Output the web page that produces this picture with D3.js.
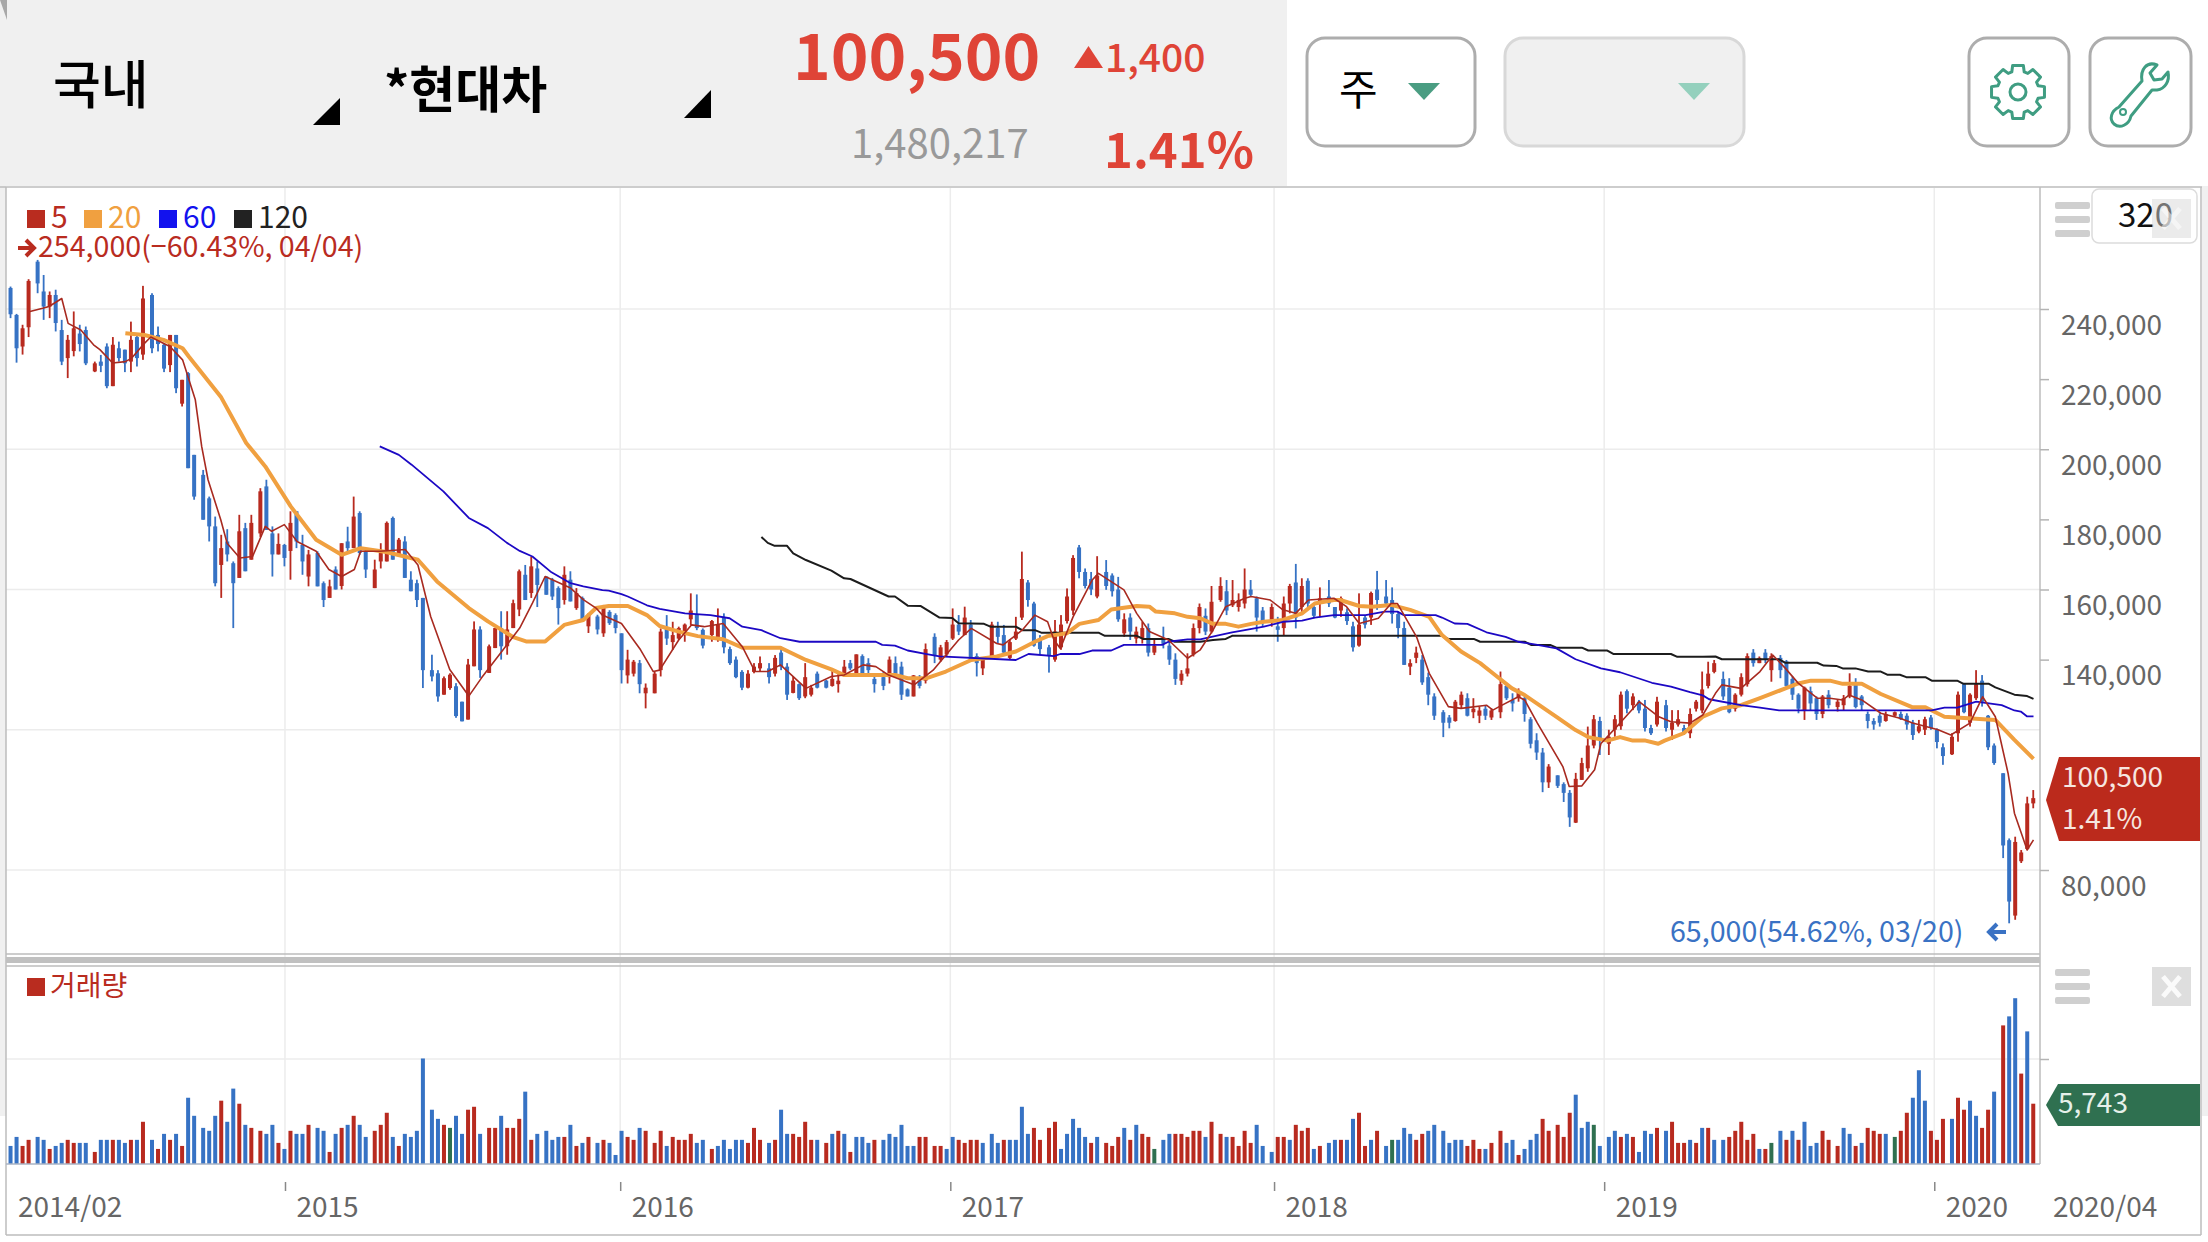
<!DOCTYPE html>
<html>
<head>
<meta charset="utf-8">
<title>현대차 주봉</title>
<script src="https://cdn.jsdelivr.net/npm/d3@7"></script>
<style>
    html, body { margin: 0; padding: 0; background: #fff; }
    svg { display: block; }
    text { font-family: "Noto Sans CJK KR", "Noto Sans", sans-serif; }
</style>
</head>
<body>
<div id="chart"></div>
<script>
//weekly candles, prices in thousand won
var opens = [
    228,246,238.3,229.3,234.8,253.5,245,240.7,244,234,
    226,228,233,234,222.2,225,229.3,218,228.8,228.4,
    225,232,227,244,232.6,229.8,224,232.6,213,221.7,
    198.4,192.7,186,178,167,173.7,167.5,163.3,177.5,168.5,
    176,189.4,176,170,172.7,171,182.3,172.7,163.7,170.4,
    161.8,157.6,165.7,161,173.7,171.8,181.8,170.9,160.4,168,
    168,180.4,170,173.7,162.8,161.8,157.6,137,136.1,130,
    131.9,132.4,128,122.9,138.1,148.6,136.2,143.3,149,143.8,
    149,154.3,164.2,159,166,163.7,162.8,160.4,157,162.8,
    154.7,157.6,149.5,152.3,147.5,153.6,152.7,147.5,135.5,136,
    139,130.4,130.4,137,149,145,146,147,151.5,153,
    148.5,147,146,152,143,140,136.5,132,136.5,137.5,
    137.5,136,142,138,130.5,133,129.5,130,136,134,
    132.5,133,136,139,136,141,139,134.5,135,135,
    139,138,131.5,129.5,134,134,146.5,140,141.5,146,
    150,147,150,141,137.5,141,149,147,140.5,146,
    152,162,156,146,143.5,140,143.5,151,154,172,
    165,163,158,165,164,160,147.5,152,146,146,
    149,142,146,144,140,134,136,141.5,149,152.5,
    148,157,159.5,155.5,155,156,160,157.5,154,151,
    149.5,149,156,162,155,162.5,155,156,158,155,
    154,153.5,149.5,144,152,152,160,158,157,153,
    149,138,140.5,140,135,129.5,125,123.5,122.5,127,
    129,125,124,126,123.5,125,132.5,128.5,129,129,
    123,117,113.5,105,107,104.5,102,93.5,105.7,109,
    115.5,122.5,116,120,121,131,127,128,126,120.5,
    121.5,127,120,121.5,120.5,119,126,125.5,132.5,136.5,
    134.5,132,126,130,133,142,139,142,137,140.5,
    139.5,134.5,130,125.5,131,129,124.5,130,126.5,127,
    129.5,133.5,129.5,124.5,122.5,124,122.5,124,124.5,124,
    122,119.5,120,123.5,120,115,113,119,133,122,
    129,134,124,115.5,107.6,88.5,67,82.5,86,99
];
var highs = [
    245.5,246.4,238.6,235.5,248.5,254,249.7,245,245.5,236.9,
    232.6,239.3,235.5,235,225,226.9,230.2,232,230.7,228.4,
    236.4,233,246.6,244.5,235,230.2,232.6,232.6,219.8,222,
    198.4,194.1,186.5,180.8,175.6,177.2,168,181.3,179,181.3,
    188.9,191.3,178,176,173,182.3,182.3,175.6,171.3,170.9,
    162.3,162.8,166.6,173.2,177.9,186.5,182.3,171.8,168.5,173.2,
    179.4,180.8,174.7,175.2,165.2,162.8,157.6,141.4,137,135.2,
    136.1,133.3,128,140.2,150.9,149.5,144.3,149,153.8,153.8,
    157.1,165.7,167,169.4,168,163.7,163.3,160.9,166.6,165.2,
    160.4,158,153.3,152.8,155.6,154.1,153.2,147.5,142.8,139.9,
    139.9,133.2,136.6,148.9,152.7,150.8,149.4,150.3,158.9,158.6,
    148.9,151.3,154.6,153.2,143.7,140.9,137,137,139,140.9,
    139,141.3,143.7,139,135.2,133.2,139,132.8,136.6,134.2,
    137.5,136.1,139.9,139.9,141.5,141.5,140.4,136.1,136.6,140.9,
    140.9,139.4,131.8,135.6,135.6,144.6,147.5,144.2,145.6,154.6,
    152.7,155.1,151.3,141.8,140.4,150.8,150.8,149.9,145.8,152.2,
    170.8,162.7,156.5,147,144.2,151.3,152.7,160.3,169.8,172.7,
    166,165,169.5,168.4,164.6,163.6,153.2,153.2,149.4,150.8,
    150.3,145.6,149.4,145.6,141.8,137,141.8,150.3,156,154.6,
    161,163.5,162.7,162.7,158.9,166,162.7,158,155,156,
    152.2,158,161.6,167.3,163.2,163.2,155.6,160.6,162.7,155,
    158,154.6,150.8,158.9,152.7,159.4,165.3,162.7,160.6,153.7,
    150.8,140.1,143.7,141.3,136.3,130.4,125.6,124.2,128.5,130.9,
    130.4,129,126.6,127,126.1,136.6,133.2,130.4,131.8,129.5,
    123.6,119,114.8,110.2,107,105,102.8,107.7,112,120.9,
    124.2,123.7,120,124.2,130.9,131.5,130.4,128.5,128.5,121.4,
    129.4,128.5,125.6,125.6,121.4,126.1,128.5,136.6,139.4,139.9,
    136.6,134.7,130.4,136.1,141.8,143,140.9,143,141.8,141.3,
    139.9,135.2,130.4,132.3,132.3,129.5,129.9,131.3,128.5,129.9,
    136.1,134.7,129.9,125.2,123.3,124.7,125.2,125.2,125.2,124.7,
    122.8,122.8,123.7,124.2,120.4,116.1,119,130.9,133.3,130.4,
    137,135.6,124.2,116.1,107.6,89,89.5,85.7,100.9,102.8
];
var lows = [
    226,237.4,224.7,227,232,244.5,236.9,237.4,233.6,224,
    220.3,226.5,227.9,224,222,222,217.4,218,225,222,
    222,223.6,225.5,227.4,227.9,222,222,216,212.2,194.6,
    185.6,179.9,173.7,160.9,157.6,168,149,163.3,165.2,168.5,
    175,177,163.7,170,166.6,162.8,171.8,164.2,160.9,160.9,
    155,157.6,160,160,170.9,171.8,169.9,163.3,160.4,166,
    168,168.5,169.4,163.3,159.5,155,131.9,133.8,128,130,
    131.4,123.4,122.4,122.9,138.1,134.8,136.2,143.3,140,141.4,
    149,152.4,157,157.6,155,158.5,157,150,155.7,156.6,
    154.2,151.4,147.6,147.2,146.5,149.9,147.5,133.2,133.2,135.2,
    130.4,126.1,130.4,135.2,144.2,142.8,145.6,145.1,149.9,148.4,
    143.2,145.1,145.1,141.8,138.5,134.7,131.3,131.8,136.1,136.6,
    133.2,135.2,137,128.5,130.4,128.5,129,129.5,131.8,131.8,
    132.3,130.6,135.6,137,135.6,135.2,136.1,130.6,131.3,133.2,
    135.2,128.5,129.5,129.5,131.8,133.2,139,139.4,140.9,145.6,
    147,147,139.9,135.2,135.6,140.9,144.6,141.3,139.9,145.6,
    151.3,155.1,143.7,141.3,136.3,139.4,142.8,150.3,152.7,163.2,
    160.3,158.4,157.5,159.9,158,150.8,146.5,145.6,144.6,144.6,
    140.9,141.3,143.2,138.5,132.8,132.8,135.2,140.9,147.5,147,
    147.5,156.5,152.7,155,153.7,154.6,158,148,149.4,149.4,
    145.1,147,153.2,148.9,152.7,154.6,151.8,152.2,155,151.8,
    152.2,149.9,142.3,143.7,148.9,149.9,154.2,155.1,150.3,146.1,
    138.5,135.6,139,132.8,127,122.8,117.9,120.4,122.3,126.1,
    123.8,123.3,121.9,122.8,122.8,123.3,128.5,125.2,128,122.3,
    114.7,111.4,102.2,103.4,103.4,99.4,92.3,93.4,105.7,108,
    114.7,112.8,112.8,118,120,124.7,125.6,124.7,119.5,118.5,
    120.9,119.5,117.1,120.9,118.5,117.6,125.2,124.7,131.8,136.1,
    128.5,124.7,125.2,129.5,132.3,138,139,139,133.7,134.7,
    131.8,128.5,124.7,122.8,125.6,122.8,123.3,126.1,125.2,125.6,
    129,126.1,125.6,120.4,120,120.9,122.3,123.7,122.8,120,
    117.1,119,118.5,120,114.7,110,112.8,116.6,124.7,120.9,
    128.5,126.6,114.2,110,83.4,64.8,65.8,82,85.7,97.6
];
var closes = [
    244.5,238.5,228.8,234.5,248,247.3,240.7,244,236,225,
    231.2,234.5,230,224.5,224.5,223.8,218,229.8,226,224.5,
    231.2,226,243,228.8,230,223,232.6,217.4,219.8,194.6,
    186.5,179.9,178,161.8,171.8,170,161.8,176.6,165.2,179,
    188,177,170,173,169,179,173.7,168,170,160.9,
    157,160.9,160,173.2,171.8,180.8,170.4,165.7,165.7,170.4,
    179,168.5,174.2,163.3,159.5,157,137,135.2,129.5,134.7,
    135.7,123.9,122.4,138.6,148.6,137,143.8,149,143.8,148.6,
    156.1,165.2,157,166.6,161.3,158.5,158,154.7,164.2,156.6,
    159,151.4,152.8,148.6,155.1,150.4,149,137,140,139.4,
    133,132,136,148,146,147,149,150,154,149,
    144,151,150,143.5,139,135,132,136,138,139,
    135,140.5,138,130,134,129,135,132,132,132,
    134.5,134,138,137.5,141.5,136,137,133,132.5,140,
    136,130,129.5,135.5,132.5,143,141,143.5,145,150,
    148,152,140,139,140,150,146.5,142,145,148,
    163,157,144,143,141,148,150,158,169,165,
    161,160,164,161,159.5,151.5,151.5,148,148,149,
    142,144,144.5,140,134.5,136,137.5,149,155,148,
    156.5,161,154,157,157,160,158.5,152,150.5,155,
    148.5,156,161,152,161,156,152.5,157.5,156,152,
    157.5,151,143.5,150,150,159,157,156,153,149,
    138.5,139,142,133.5,130,124,122,122,128,130,
    124,126,125.5,124,125.5,133,129,127.5,131,124.5,
    116,113.5,105,109.5,104,102,95,106,110.5,115.5,
    123,117.5,118,123,130,126,129.5,125.5,120.5,119,
    128,120.5,122,123,119,124.5,128,131.5,136,139,
    129.5,125,130,135,141,139,140.5,140,141,137,
    132.5,130,126,132,127.5,124.5,129.5,127,128,129,
    132.5,126.5,127,122.5,121.5,122,124.5,125,123,121.5,
    118.5,121,123,120.5,116.5,112.5,118,130,125,130,
    133,128,115,110.5,87,71,88,85,99,100.5
];

//volume in thousand shares, with its own colour code per bar
var volumes = [
    2870,1720,2580,1720,2300,2580,2300,1435,1720,2010,
    2300,2010,2010,2010,1150,2300,2300,2300,2300,2010,
    2300,2300,4020,2300,1435,2870,2300,2870,1720,6310,
    4590,3440,3160,4590,6030,4020,7180,5740,3730,3440,
    3160,2870,3730,2010,1435,3160,2870,2870,3730,3440,
    3160,1150,2870,3440,3730,4590,3730,2580,3160,3730,
    4880,2580,1720,2870,2580,3160,10050,5170,4300,3730,
    3440,4590,2870,5170,5450,2870,3440,3440,4590,3440,
    3440,4300,6890,2300,2870,3160,2300,2580,2580,3730,
    1720,2010,2580,2010,2300,2010,860,3160,2580,2300,
    3440,3160,2010,3160,1720,2580,2300,2300,2870,2010,
    2300,1435,1720,2300,1435,2300,2300,2010,3440,2300,
    2010,2300,5170,2870,2870,2580,4020,2300,2300,2010,
    2870,3160,2870,1150,2580,2580,2010,2300,2300,2870,
    2580,3730,1720,1720,2580,2580,1720,1720,1435,2580,
    2300,2010,2300,2300,2010,2870,2010,2300,2300,2300,
    5450,2870,3440,2300,3440,4020,1435,2870,4300,3440,
    2580,2010,2580,2010,1720,2580,3440,2300,3730,2870,
    2580,1435,2300,2870,2870,2870,2580,3160,3160,2580,
    4020,2870,2580,2580,1720,3160,2010,3730,1720,1150,
    2580,2580,2300,3730,3160,3440,1435,1720,2010,2300,
    2300,2300,4300,4880,1720,2300,3160,1720,2300,2300,
    3440,2870,2300,2870,3160,3730,3160,2010,2300,2300,
    1720,2300,1435,1435,2010,3160,2010,2300,860,1435,
    2300,2870,4300,3160,3730,2580,4880,6600,3440,4020,
    3730,1720,2580,3160,2580,2870,2580,1150,3160,2870,
    3440,3160,4020,2010,2010,2300,2010,3440,3440,2300,
    2300,2580,3160,4020,2300,2870,1435,1435,2010,3160,
    2300,3160,2300,4020,1720,2010,3160,2300,1720,3440,
    2870,1720,2010,3440,3160,2870,2870,2580,3160,4880,
    6310,8930,6030,3160,2300,4300,4300,6310,5170,6030,
    4590,3440,5170,6890,13200,14060,15790,8610,12630,5743
];
var volumeDir = "rbbrrbbrbbrrbbrbbrbbrbrbrbrbrbbbbbrbbrbrrbbrbrbbrbbrbrbrbbrrrbrbbbbbbrgbbrrbrrbrrrbrbbbbrbrbrbrbbbrrbrrrbrrrrbbrbbbbbrrrbrbbrrrrbrbrbrbbbrbbbbbbrrrrbbrrrrbbbrbbbbrrrrbbbbbrbrrrbrbrrgbbrrrrrbrrbrrrrbbbrrbrrrbrbbrbbrrbrbgbbbrrbbbbbbrrrbrrbbrbbbrrrrrbbbgbbbrbrbbbrbrrrbrbrbbrrrrrbrgbrbrbbbrrrbbrbrrrbgrrbbbrrrbrrbbrrbrbbrbrb";

//moving averages, [week index, price]
var ma5 = [
    [4,239.3],[6,240.2],[7,240.7],[9,243],[10,235.9],[12,234],[14,229.8],[15,228.4],[17,224.6],[19,225],
    [20,226],[22,230.2],[23,232],[26,229.3],[28,225.5],[30,214.1],[31,200.8],[32,191.3],[34,179.9],[35,173.2],
    [37,169],[39,169.4],[41,178],[42,176.6],[44,178.5],[46,173.7],[49,170.9],[51,165.7],[53,163.7],[55,165.7],
    [56,170.9],[59,170.9],[63,171.4],[65,167],[67,152.3],[70,137.2],[73,129.6],[75,134.8],[78,141.9],[81,149],
    [83,156.1],[85,163.7],[89,160.4],[91,157.1],[93,154.7],[94,152.7],[97,150.3],[100,142.8],[102,136.6],[103,137],
    [106,145.6],[108,149.9],[110,149.4],[113,150.3],[116,143.7],[118,136.6],[120,136.6],[122,138.5],[126,131.8],[130,135.2],
    [132,135.6],[135,138.5],[137,138],[139,135.6],[143,132.8],[146,137],[150,145.6],[152,148.9],[156,144.6],[157,144.2],
    [160,148.4],[162,152.7],[164,150.8],[165,145.6],[166,143.2],[168,152.2],[171,162.7],[172,164.6],[176,159.9],[178,153.2],
    [180,148],[183,145.6],[186,140.4],[188,142.8],[190,148.4],[192,155.1],[195,157.5],[196,158],[199,157],[201,154.2],
    [203,153.2],[205,157],[209,157.5],[211,155.1],[213,150.3],[216,151.8],[218,156],[219,156],[222,146.5],[224,136.1],
    [227,126.6],[229,126.1],[233,127],[234,125.6],[235,126.6],[238,129.4],[239,128.5],[241,121.9],[245,109.5],[246,103.8],
    [248,104],[250,108.6],[251,116.1],[254,121.9],[257,128],[260,123.8],[262,122.3],[265,121.9],[267,124.2],[269,130.4],
    [270,132.8],[273,131.8],[276,136.6],[278,141.3],[280,137.5],[282,133.3],[285,129],[287,129],[289,128.5],[290,129.9],
    [292,128.5],[295,124.7],[298,123.3],[300,121.9],[304,120],[306,118.5],[309,121.9],[311,129.4],[313,123.7],[315,107.6],
    [316,96.2],[318,85.7],[319,88.6]
];
var ma20 = [
    [19,233.1],[22,232.6],[25,231.2],[28,228.8],[29,226.4],[34,215],[38,201.8],[41,195.1],[45,183.7],[49,174.2],
    [53,169.9],[56,171.8],[60,170.7],[65,168.5],[68,162.3],[73,154.7],[76,150.9],[80,146.4],[82,145.2],[85,145.2],
    [88,149.9],[91,151.3],[93,154.7],[95,155.3],[98,155.3],[101,152.7],[103,149.6],[106,148],[109,146.7],[113,145.8],
    [116,143.4],[122,143.4],[126,139.9],[130,137.2],[132,135.6],[140,135.6],[142,134.7],[145,134.7],[148,136.6],[152,139.9],
    [156,140.9],[159,142.3],[162,145.1],[164,146.7],[167,147.5],[169,150.2],[172,151.3],[174,154.3],[178,155.3],[180,155.1],
    [181,153.7],[184,153.2],[186,152.2],[188,151.8],[190,150.2],[192,150.2],[194,149.4],[196,150.2],[198,150.8],[201,151.3],
    [204,153.2],[206,156],[209,157],[210,157],[213,155.3],[215,155.1],[218,155.6],[221,154.2],[224,152.2],[226,147],
    [229,142.3],[232,139],[234,136.1],[237,131.8],[239,129.9],[244,123.7],[247,119.9],[249,117.9],[252,116.9],[254,117.9],
    [256,116.9],[258,116.9],[260,116],[261,116.9],[264,119],[267,123.7],[270,126.1],[273,127],[276,129],[280,131.8],
    [282,133.2],[284,134],[287,134],[289,133.1],[292,133.1],[295,130.2],[300,126.4],[302,126.4],[305,123.7],[313,122.8],
    [316,117.1],[319,111.7]
];
var ma60 = [
    [59,200.8],[62,198.4],[64,195.6],[69,188],[73,180.4],[76,177.5],[79,173.3],[81,171],[83,169.4],[86,164.9],
    [89,161.8],[91,160.9],[94,159.8],[95,159.7],[97,158.7],[98,158],[101,155.5],[103,154.5],[107,153.2],[111,152.7],
    [114,151.8],[116,149.4],[119,148.4],[122,146.1],[125,145.1],[137,145.1],[138,144.2],[140,144],[142,142.6],[145,141.6],
    [147,140.9],[159,139.9],[161,141.6],[165,141],[166,141.6],[169,141.6],[171,142.6],[174,142.6],[176,144.2],[182,144.2],
    [183,145.1],[186,145.8],[188,145.8],[191,147],[193,147.8],[195,148.4],[198,149.4],[201,150.8],[204,151.1],[206,152],
    [209,152.7],[214,152.7],[217,153.7],[219,153.7],[220,152.7],[225,152.7],[226,152],[228,150.3],[230,150.2],[233,147.8],
    [236,146.5],[238,145.1],[241,144.2],[244,143.2],[247,140.1],[251,137.5],[254,136.4],[259,133.4],[262,132.3],[265,130.7],
    [267,129.8],[268,128.7],[273,127],[276,126.3],[279,125.5],[303,125.5],[305,126.3],[307,126.3],[310,128],[314,127],
    [316,125.5],[317,125.2],[318,123.8],[319,123.8]
];
var ma120 = [
    [119,175],[120,173.3],[121,172.5],[123,172.5],[124,170.3],[126,168.4],[130,165.4],[132,163.2],[133,163],[139,158],
    [140,158],[142,155.4],[144,155.3],[147,152],[149,151.9],[150,150.4],[154,150.2],[155,149.4],[159,149.4],[160,148.4],
    [162,148.4],[163,147.7],[172,147.7],[173,146.8],[178,146.8],[179,145.9],[183,145.9],[184,145.1],[188,145.1],[190,145.6],
    [192,145.9],[193,146.8],[226,146.8],[227,145.9],[231,145.9],[232,145.1],[239,145.1],[240,144.2],[243,144.2],[244,143.4],
    [248,143.4],[249,142.6],[252,142.6],[253,141.6],[262,141.6],[263,140.8],[267,140.8],[269,140.9],[270,140.1],[279,140.1],
    [280,139.1],[285,139.1],[286,138.3],[288,138.2],[289,137.5],[291,137.5],[293,136.6],[295,136.6],[296,135.7],[298,135.7],
    [299,135],[302,135],[303,134],[307,134],[308,133.1],[312,133.1],[313,132.1],[316,130],[318,129.6],[319,128.8]
];

var priceTicks = [240, 220, 200, 180, 160, 140, 80];
var priceGrid = [240, 200, 160, 120, 80];
var volumeTicks = [10000];
var yearIndex = [44.1, 96.8, 148.7, 199.6, 251.5, 303.4];
var yearLabels = ["2015", "2016", "2017", "2018", "2019", "2020"];
var legendNames = ["5", "20", "60", "120"];
var legendColors = ["#b92c1f", "#f0a040", "#1212ee", "#222222"];

var RED = "#b82a1f", BLUE = "#3672c4", GREEN = "#2f7050";
var ICON = "#3f9d82";

var width = 2208, height = 1242;
var plotLeft = 6, plotRight = 2040;

var x = d3.scaleLinear().domain([0, 319]).range([4.5, 2033.5]);
var yPrice = d3.scaleLinear().domain([80, 240]).range([870, 309]);
var yVolume = d3.scaleLinear().domain([0, 10000]).range([1164, 1059]);

//the source chart sits on a coarse pixel grid, so bars step 6 or 9 px
function barX(i) {
    return Math.floor(x(i) / 3.01) * 3.01 + 1.5;
}

var svg = d3.select("#chart").append("svg")
    .attr("width", width)
    .attr("height", height);

svg.append("clipPath").attr("id", "plotClip").append("rect")
    .attr("x", plotLeft + 1).attr("y", 187)
    .attr("width", plotRight - plotLeft - 1).attr("height", 990);

function rect(g, x0, y0, w, h, fill) {
    return g.append("rect").attr("x", x0).attr("y", y0)
        .attr("width", w).attr("height", h).attr("fill", fill);
}
function label(g, x0, y0, str, size, fill, weight) {
    return g.append("text").attr("x", x0).attr("y", y0)
        .attr("font-size", size).attr("fill", fill)
        .attr("font-weight", weight || 400).text(str);
}
function poly(g, pts, fill) {
    return g.append("polygon").attr("points", pts.join(" ")).attr("fill", fill);
}

//page furniture behind the chart
rect(svg, 0, 0, 1287, 186, "#f0f0f0");
rect(svg, 0, 186, 6, 930, "#f0f0f0");
rect(svg, 2202, 186, 6, 930, "#f0f0f0");
poly(svg, ["0,0", "7,0", "7,20"], "#a8a8a8");

var grid = svg.append("g").attr("stroke", "#ececec").attr("stroke-width", 1.5);
grid.selectAll("line.h").data(priceGrid).enter().append("line").attr("class", "h")
    .attr("x1", plotLeft).attr("x2", plotRight)
    .attr("y1", function (d) { return yPrice(d); })
    .attr("y2", function (d) { return yPrice(d); });
grid.selectAll("line.v").data(volumeTicks).enter().append("line").attr("class", "v")
    .attr("x1", plotLeft).attr("x2", plotRight)
    .attr("y1", function (d) { return yVolume(d); })
    .attr("y2", function (d) { return yVolume(d); });
grid.selectAll("line.y").data(yearIndex).enter().append("line").attr("class", "y")
    .attr("y1", 188).attr("y2", 1164)
    .attr("x1", function (d) { return x(d); })
    .attr("x2", function (d) { return x(d); });

//candles
var candles = svg.append("g").attr("clip-path", "url(#plotClip)");
var idx = d3.range(opens.length);
function candleColor(i) {
    return closes[i] >= opens[i] ? RED : BLUE;
}
candles.selectAll("rect.wick").data(idx).enter().append("rect").attr("class", "wick")
    .attr("x", function (i) { return barX(i) - 0.9; })
    .attr("width", 1.8)
    .attr("y", function (i) { return yPrice(highs[i]); })
    .attr("height", function (i) { return yPrice(lows[i]) - yPrice(highs[i]); })
    .attr("fill", candleColor);
candles.selectAll("rect.body").data(idx).enter().append("rect").attr("class", "body")
    .attr("x", function (i) { return barX(i) - 2; })
    .attr("width", 4)
    .attr("y", function (i) { return yPrice(Math.max(opens[i], closes[i])); })
    .attr("height", function (i) { return Math.max(1.5, Math.abs(yPrice(opens[i]) - yPrice(closes[i]))); })
    .attr("fill", candleColor);

//moving averages
var maLine = d3.line()
    .x(function (d) { return x(d[0]); })
    .y(function (d) { return yPrice(d[1]); });
[[ma120, "#1c1c1c", 2], [ma20, "#f0a040", 4], [ma60, "#1c08c4", 1.8], [ma5, "#a82a20", 1.6]].forEach(function (m) {
    candles.append("path").attr("d", maLine(m[0]))
        .attr("fill", "none").attr("stroke", m[1]).attr("stroke-width", m[2])
        .attr("stroke-linejoin", "round");
});

//volume bars
var volumeColors = { r: RED, b: BLUE, g: GREEN };
candles.selectAll("rect.vol").data(volumes).enter().append("rect").attr("class", "vol")
    .attr("x", function (d, i) { return barX(i) - 2; })
    .attr("width", 4)
    .attr("y", function (d) { return yVolume(d); })
    .attr("height", function (d) { return yVolume(0) - yVolume(d); })
    .attr("fill", function (d, i) { return volumeColors[volumeDir.charAt(i)]; });

//frame lines
var frame = svg.append("g").attr("stroke", "#bdbdbd").attr("stroke-width", 1.5);
[[0, 187, 2202, 187], [6, 187, 6, 1235], [2201, 187, 2201, 1235], [6, 1235, 2201, 1235],
    [plotRight, 187, plotRight, 1164], [6, 954, plotRight, 954], [6, 966, plotRight, 966]].forEach(function (l) {
    frame.append("line").attr("x1", l[0]).attr("y1", l[1]).attr("x2", l[2]).attr("y2", l[3]);
});
rect(svg, 6, 957, plotRight - 6, 6, "#c0c0c0");
svg.append("line").attr("x1", 6).attr("x2", plotRight).attr("y1", 1164).attr("y2", 1164)
    .attr("stroke", "#a9b3c4").attr("stroke-width", 1.5);

//axes
var priceAxis = svg.append("g")
    .attr("transform", "translate(" + plotRight + ",0)")
    .call(d3.axisRight(yPrice).tickValues(priceTicks).tickSize(9).tickPadding(12)
        .tickFormat(function (d) { return d3.format(",")(d * 1000); }));
var volumeAxis = svg.append("g")
    .attr("transform", "translate(" + plotRight + ",0)")
    .call(d3.axisRight(yVolume).tickValues(volumeTicks).tickSize(9).tickFormat(""));
var timeAxis = svg.append("g")
    .attr("transform", "translate(0,1182)")
    .call(d3.axisBottom(x).tickValues(yearIndex).tickSize(9).tickPadding(0)
        .tickFormat(function (d, i) { return yearLabels[i]; }));
[priceAxis, volumeAxis, timeAxis].forEach(function (a) {
    a.select(".domain").remove();
    a.selectAll(".tick line").attr("stroke", "#b4b4b4").attr("stroke-width", 1.5);
    a.selectAll("text")
        .attr("font-size", 28)
        .attr("font-family", '"Noto Sans CJK KR", "Noto Sans", sans-serif')
        .attr("fill", "#666");
});
priceAxis.selectAll("text").attr("dy", "0.9em").attr("x", 21);
timeAxis.selectAll(".tick line").attr("stroke", "#888");
timeAxis.selectAll("text")
    .attr("text-anchor", "start")
    .attr("x", 11).attr("y", 14).attr("dy", "0.74em");

label(svg, 18, 1217, "2014/02", 28, "#666");
label(svg, 2053, 1217, "2020/04", 28, "#666");

//legends
var legend = svg.append("g");
var legendX = [27, 84, 159, 234];
legendNames.forEach(function (n, i) {
    rect(legend, legendX[i], 210, 18, 18, legendColors[i]);
    label(legend, legendX[i] + 24, 228, n, 30, i == 3 ? "#222" : legendColors[i]);
});
rect(legend, 27, 978, 18, 18, "#b92c1f");
label(legend, 50, 996, "거래량", 28, "#b92c1f");

label(svg, 38, 257, "254,000(−60.43%, 04/04)", 28.6, "#b92c1f");
svg.append("path").attr("d", "M18 248 h15 m-7 -8 l8 8 l-8 8")
    .attr("fill", "none").attr("stroke", "#b92c1f").attr("stroke-width", 4);
label(svg, 1670, 942, "65,000(54.62%, 03/20)", 28.6, "#3a72c4");
svg.append("path").attr("d", "M2006 932 h-17 m8 -8 l-8 8 l8 8")
    .attr("fill", "none").attr("stroke", "#3a72c4").attr("stroke-width", 4);

//last price and volume tags
poly(svg, ["2059,757", "2200,757", "2200,841", "2059,841", "2046,800"], "#bb2a1c");
label(svg, 2062, 787, "100,500", 28, "#f6e6e0");
label(svg, 2062, 829, "1.41%", 28, "#f6e6e0");
poly(svg, ["2058,1084", "2200,1084", "2200,1126", "2058,1126", "2046,1105"], GREEN);
label(svg, 2058, 1113, "5,743", 28, "#e6f0ea");

//panel buttons
function menuBars(y0) {
    [0, 14, 28].forEach(function (dy) {
        svg.append("rect").attr("x", 2055).attr("y", y0 + dy).attr("width", 35).attr("height", 7)
            .attr("rx", 2).attr("fill", "#cfcfcf");
    });
}
function closeBox(y0, h, opacity) {
    svg.append("rect").attr("x", 2152).attr("y", y0).attr("width", 39).attr("height", h)
        .attr("fill", "#d8d8d8").attr("fill-opacity", opacity);
    svg.append("path").attr("stroke", "#fff").attr("stroke-width", 5).attr("fill", "none")
        .attr("stroke-opacity", opacity)
        .attr("d", "M2163 " + (y0 + h / 2 - 10) + " l17 20 m0 -20 l-17 20");
}
menuBars(202);
svg.append("rect").attr("x", 2092).attr("y", 189).attr("width", 105).attr("height", 54)
    .attr("rx", 7).attr("fill", "#fff").attr("stroke", "#dcdcdc").attr("stroke-width", 1.5);
label(svg, 2118, 227, "320", 33, "#111");
closeBox(199, 39, 0.5);
menuBars(969);
closeBox(967, 39, 0.85);

//header
label(svg, 53, 104, "국내", 52, "#000", 500);
label(svg, 384, 108, "*현대차", 50, "#000", 700);
poly(svg, ["313,125", "340,125", "340,98"], "#000");
poly(svg, ["684,118", "711,118", "711,90"], "#000");
label(svg, 793, 80, "100,500", 64, "#df4437", 700);
poly(svg, ["1074,68", "1103,68", "1088.5,46"], "#df4437");
label(svg, 1105, 72, "1,400", 39, "#df4437", 500);
label(svg, 851, 158, "1,480,217", 40, "#999", 400);
label(svg, 1104, 168, "1.41%", 49, "#df4437", 700);

function button(x0, w, fill, stroke) {
    svg.append("rect").attr("x", x0).attr("y", 38).attr("width", w).attr("height", 108)
        .attr("rx", 18).attr("fill", fill).attr("stroke", stroke).attr("stroke-width", 3);
}
button(1307, 168, "#fff", "#adadad");
button(1505, 239, "#f0f0f0", "#d8d8d8");
button(1969, 100, "#fff", "#adadad");
button(2090, 101, "#fff", "#adadad");
label(svg, 1339, 105, "주", 42, "#000");
poly(svg, ["1408,83", "1440,83", "1424,100"], "#4a9d82");
poly(svg, ["1678,83", "1710,83", "1694,100"], "#94d0bd");

//gear icon, teeth go round the radial line
var gearPts = [];
d3.range(8).forEach(function (k) {
    var a = k * Math.PI / 4;
    [[-0.3, 21], [-0.2, 27], [0.2, 27], [0.3, 21]].forEach(function (p) {
        gearPts.push([a + p[0], p[1]]);
    });
});
svg.append("path")
    .attr("transform", "translate(2018,92)")
    .attr("d", d3.lineRadial().curve(d3.curveLinearClosed)(gearPts))
    .attr("fill", "none").attr("stroke", ICON).attr("stroke-width", 3).attr("stroke-linejoin", "round");
svg.append("circle").attr("cx", 2018).attr("cy", 92).attr("r", 8)
    .attr("fill", "none").attr("stroke", ICON).attr("stroke-width", 3);

svg.append("path")
    .attr("d", "M2157 65 l-7 8 l4 7 l8 -1 l6 -7 c2 9 -3 17 -11 18 c-2 0 -3 0 -5 0 l-21 26 c-2 9 -11 13 -17 8 c-5 -5 -3 -13 5 -17 l23 -26 c-2 -12 5 -20 15 -16 z")
    .attr("fill", "none").attr("stroke", ICON).attr("stroke-width", 3).attr("stroke-linejoin", "round");
svg.append("circle").attr("cx", 2123).attr("cy", 112).attr("r", 3)
    .attr("fill", "none").attr("stroke", ICON).attr("stroke-width", 2);
</script>
</body>
</html>
